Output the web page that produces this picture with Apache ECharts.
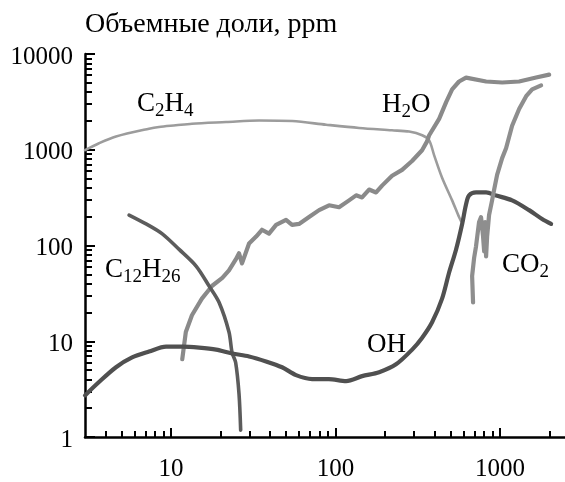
<!DOCTYPE html>
<html>
<head>
<meta charset="utf-8">
<script src="https://cdn.jsdelivr.net/npm/echarts@6/dist/echarts.min.js"></script>
<style>
  html, body { margin: 0; padding: 0; background: #fff; }
  #chart { width: 565px; height: 482px; }
</style>
</head>
<body>
<div id="chart"></div>
<script>
// Mole fractions (ppm) versus time, log-log axes
const c2h4 = [[3.0, 990], [3.65, 1170], [4.63, 1375], [7.35, 1660], [8.45, 1730], [10.7, 1800], [13.4, 1870], [21.6, 1946], [34.3, 2020], [54.5, 1993], [87.6, 1827], [139, 1690], [220, 1597], [280, 1548], [336, 1419], [370, 1260], [397, 880], [444, 510], [511, 296], [563, 198], [580, 178]];

const h2o = [[11.7, 6.5], [12.3, 12.5], [13.4, 18.7], [15.4, 27.9], [17.8, 38], [20.5, 46], [22.5, 55], [24.8, 72], [25.9, 83], [27.0, 65], [29.8, 105], [32.9, 124], [35.7, 146], [39.4, 133], [43.5, 164], [50.0, 185], [54.4, 164], [60, 168], [69, 198], [79.4, 234], [91.3, 263], [105, 251], [120.8, 296], [133.3, 334], [144.9, 318], [159.8, 384], [176.3, 358], [191.7, 422], [220.6, 535], [253.7, 616], [291.7, 762], [335.6, 988], [359.8, 1223], [370, 1408], [426, 2104], [470, 3144], [511, 4273], [563, 5161], [621, 5673], [822, 5161], [1029, 5041], [1305, 5161], [1655, 5673], [1987, 6090]];

const c12h26 = [[5.56, 208], [7.05, 168], [8.81, 133], [11.2, 91], [14.2, 61], [17.0, 38], [19.6, 25.4], [22.5, 12.5], [23.5, 7.6], [24.7, 6.0], [25.9, 2.8], [26.5, 1.18]];

const oh = [[3.0, 2.72], [3.65, 3.75], [4.63, 5.35], [5.8, 6.77], [7.35, 7.8], [9.33, 8.78], [11.7, 8.78], [14.8, 8.58], [18.8, 8.18], [23.5, 7.45], [29.8, 6.94], [37.8, 6.16], [47.3, 5.35], [57.5, 4.43], [72, 4.03], [91, 4.03], [116, 3.84], [145, 4.32], [184, 4.75], [233, 5.74], [292, 8.18], [336, 10.9], [386, 15.8], [444, 27.9], [489, 51.6], [540, 91], [588, 168], [621, 270], [648, 333], [714, 358], [822, 358], [946, 333], [1183, 296], [1500, 234], [1800, 189], [2041, 168]];

const co2 = [[685, 25.4], [676, 48], [695, 74], [714, 98], [745, 176], [766, 198], [788, 124], [800, 87], [811, 176], [822, 77], [834, 124], [857, 208], [894, 296], [920, 384], [959, 547], [1029, 818], [1087, 1036], [1183, 1783], [1305, 2668], [1440, 3624], [1566, 4274], [1775, 4697]];

// Axis ranges and tick values
const xMin = 3, xMax = 2480, yMin = 1, yMax = 10000;
const xMajorTicks = [10, 100, 1000];
const xMinorTicks = [4, 5, 6, 7, 8, 9, 20, 30, 40, 50, 60, 70, 80, 90, 200, 300, 400, 500, 600, 700, 800, 900, 2000];
const yMajorTicks = [1, 10, 100, 1000, 10000];
const yMinorTicks = [];
[1, 10, 100, 1000].forEach(d => { for (let k = 2; k <= 9; k++) yMinorTicks.push(k * d); });

const FONT = '"Liberation Serif", "DejaVu Serif", "Times New Roman", serif';

const chart = echarts.init(document.getElementById('chart'), null, { renderer: 'canvas' });

function lineSeries(name, data, color, width, smooth) {
  return {
    name, type: 'line', data, showSymbol: false, smooth: smooth,
    lineStyle: { color, width, cap: 'round', join: 'round' },
    silent: true, animation: false
  };
}

const plainNumber = v => String(Math.round(v));

// One axis per tick set; the minor-tick axes draw only their ticks
function xAxisDef(ticks, len, withLine, withLabels) {
  return {
    type: 'log', logBase: 10, min: xMin, max: xMax, gridIndex: 0, position: 'bottom',
    axisLine: { show: withLine, onZero: false, lineStyle: { color: '#000', width: 2.5 } },
    axisTick: { show: true, inside: true, length: len, customValues: ticks, lineStyle: { color: '#000', width: 2 } },
    splitLine: { show: false },
    axisLabel: withLabels ? {
      color: '#000', fontFamily: FONT, fontSize: 25, margin: 20,
      customValues: ticks, formatter: plainNumber
    } : { show: false }
  };
}
function yAxisDef(ticks, len, withLine, withLabels) {
  return {
    type: 'log', logBase: 10, min: yMin, max: yMax, gridIndex: 0, position: 'left',
    axisLine: { show: withLine, onZero: false, lineStyle: { color: '#000', width: 2.5 } },
    axisTick: { show: true, inside: true, length: len, customValues: ticks, lineStyle: { color: '#000', width: 2 } },
    splitLine: { show: false },
    axisLabel: withLabels ? {
      color: '#000', fontFamily: FONT, fontSize: 25, margin: 12,
      verticalAlign: 'top', lineHeight: 6,
      customValues: ticks, formatter: plainNumber
    } : { show: false }
  };
}

// Chemical formula drawn as text pieces, subscripts smaller and lowered
const measureCtx = document.createElement('canvas').getContext('2d');
function formula(left, baseline, parts) {
  const els = [];
  let x = left;
  parts.forEach(t => {
    const sub = /^\d+$/.test(t);
    const size = sub ? 19 : 27;
    const font = size + 'px ' + FONT;
    const base = baseline + (sub ? 5 : 0);
    els.push({
      type: 'text', x, y: base - 0.3 * size, silent: true, z: 20,
      style: { text: t, font, fill: '#000', verticalAlign: 'middle', align: 'left', lineHeight: size }
    });
    measureCtx.font = font;
    x += measureCtx.measureText(t).width;
  });
  return els;
}

chart.setOption({
  animation: false,
  grid: { left: 85, right: 0, top: 54, bottom: 38, containLabel: false },
  xAxis: [
    xAxisDef(xMajorTicks, 9, true, true),
    xAxisDef(xMinorTicks, 6, false, false)
  ],
  yAxis: [
    yAxisDef(yMajorTicks, 10, true, true),
    yAxisDef(yMinorTicks, 7, false, false)
  ],
  series: [
    lineSeries('C2H4', c2h4, '#9c9c9c', 2.6, 0.3),
    lineSeries('H2O', h2o, '#8a8a8a', 4.2, false),
    lineSeries('C12H26', c12h26, '#5c5c5c', 3.6, 0.3),
    lineSeries('OH', oh, '#505050', 4.2, 0.3),
    lineSeries('CO2', co2, '#8e8e8e', 4.2, false)
  ],
  graphic: [
    {
      type: 'text', x: 85, y: 33 - 0.3 * 28, silent: true,
      style: { text: 'Объемные доли, ppm', fill: '#000', font: '28px ' + FONT, verticalAlign: 'middle', lineHeight: 28 }
    }
  ]
    .concat(formula(137, 112, ['C', '2', 'H', '4']))
    .concat(formula(382, 113, ['H', '2', 'O']))
    .concat(formula(105, 278, ['C', '12', 'H', '26']))
    .concat(formula(367, 353, ['OH']))
    .concat(formula(502, 273, ['CO', '2']))
});
</script>
</body>
</html>
